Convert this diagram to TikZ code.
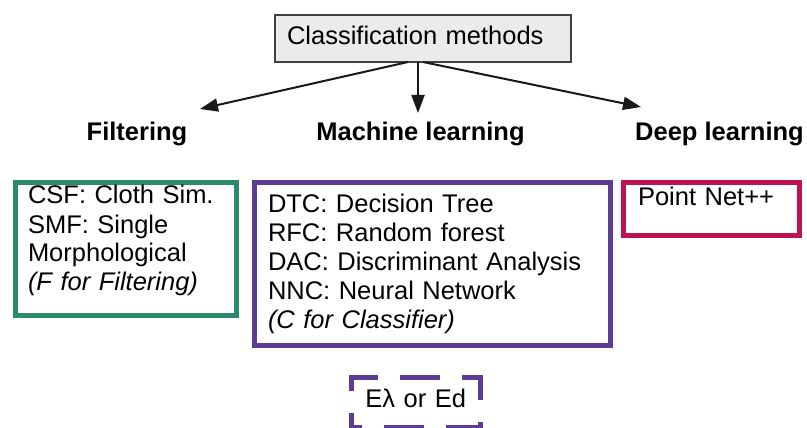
\documentclass[tikz,border=0pt]{standalone}
\usepackage{fontspec}
\setmainfont{Liberation Sans}
\usepackage{tikz}
\usetikzlibrary{arrows.meta}
\definecolor{filtline}{RGB}{44,138,108}
\definecolor{learnline}{RGB}{93,60,150}
\definecolor{deepline}{RGB}{192,18,80}
\definecolor{headfill}{RGB}{235,235,235}
\definecolor{headline}{RGB}{64,64,64}

\begin{document}
\begin{tikzpicture}[x=1pt,y=-1pt]
\tikzset{methodbox/.style={rectangle, draw, line width=5pt, anchor=north west, outer sep=0pt, inner ysep=4pt, align=left},
grouplabel/.style={anchor=base, font=\bfseries},
branch/.style={-{Triangle[length=18pt,width=13pt]}, line width=2pt, draw=black!90}}
\fontsize{25.5pt}{29pt}
\selectfont
\useasboundingbox (0,0) rectangle (807,428);
\node (cls) at (275,15) [methodbox, line width=1.5pt, draw=headline, fill=headfill, inner xsep=12pt, text width=272pt, text height=26pt, text depth=13pt] {Classification methods};

\node (filt) at (137,140) [grouplabel] {Filtering};
\node (ml) at (420.5,140) [grouplabel] {Machine learning};
\node (dl) at (719.5,140) [grouplabel] {Deep learning};

\node (fbox) at (15,182.5) [methodbox, draw=filtline, inner xsep=13pt, text width=195pt, text height=17.5pt, text depth=107.5pt] {CSF: Cloth Sim.\\ SMF: Single\\ Morphological\\ {\itshape (F for Filtering)}};
\node (mbox) at (254.5,182.5) [methodbox, draw=learnline, inner xsep=13.5pt, text width=328.5pt, text height=25.5pt, text depth=129.5pt] {DTC: Decision Tree\\ RFC: Random forest\\ DAC: Discriminant Analysis\\ NNC: Neural Network\\ {\itshape (C for Classifier)}};
\node (dbox) at (623.5,182.5) [methodbox, draw=deepline, inner xsep=14.5pt, text width=147pt, text height=19pt, text depth=26pt] {Point Net++};
\node (ebox) at (351.5,377.5) [methodbox, draw=learnline, dash pattern=on 40pt off 22pt, dash phase=29.5pt, align=center, inner xsep=6pt, text width=116.5pt, text height=25.5pt, text depth=16.5pt] {Eλ or Ed};

% arrow ends
\coordinate (filttip) at (200,109);
\coordinate (mltip) at (418,113);
\coordinate (dltip) at (641,107);
\draw[branch] ([xshift=-15pt]cls.south) -- (filttip);
\draw[branch] ([xshift=-5pt]cls.south) -- (mltip);
\draw[branch] (cls.south) -- (dltip);
\end{tikzpicture}
\end{document}
